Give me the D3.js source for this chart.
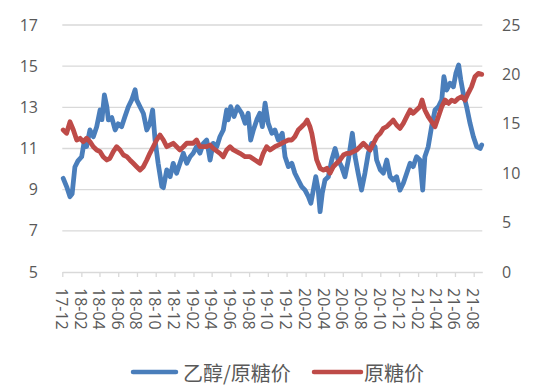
<!DOCTYPE html>
<html><head><meta charset="utf-8">
<script src="https://cdn.jsdelivr.net/npm/d3@7"></script>
<style>body{margin:0;background:#fff}</style>
</head><body><svg id="c" width="550" height="390"></svg>
<script>
const tickLabels = ["17-12","18-02","18-04","18-06","18-08","18-10","18-12","19-02","19-04","19-06","19-08","19-10","19-12","20-02","20-04","20-06","20-08","20-10","20-12","21-02","21-04","21-06","21-08"];
const leftTicks = [5,7,9,11,13,15,17];
const rightTicks = [0,5,10,15,20,25];
const seriesNames = ["乙醇/原糖价","原糖价"];

const ratioDates = ["2017-12-04","2017-12-15","2017-12-26","2018-01-02","2018-01-11","2018-01-21","2018-02-02","2018-02-10","2018-02-18","2018-03-01","2018-03-12","2018-03-23","2018-04-03","2018-04-09","2018-04-17","2018-04-25","2018-04-30","2018-05-11","2018-05-22","2018-06-01","2018-06-12","2018-06-23","2018-07-04","2018-07-15","2018-07-26","2018-07-31","2018-08-11","2018-08-22","2018-09-02","2018-09-12","2018-09-21","2018-09-29","2018-10-09","2018-10-21","2018-10-26","2018-11-06","2018-11-17","2018-11-27","2018-12-08","2018-12-19","2018-12-30","2019-01-10","2019-01-21","2019-01-31","2019-02-11","2019-02-22","2019-03-05","2019-03-16","2019-03-27","2019-04-06","2019-04-18","2019-04-28","2019-05-09","2019-05-20","2019-05-25","2019-06-02","2019-06-13","2019-06-24","2019-07-08","2019-07-19","2019-07-29","2019-08-06","2019-08-15","2019-08-26","2019-09-05","2019-09-13","2019-09-22","2019-10-02","2019-10-14","2019-10-24","2019-11-04","2019-11-17","2019-11-26","2019-12-07","2019-12-18","2019-12-28","2020-01-08","2020-01-19","2020-01-30","2020-02-10","2020-02-18","2020-02-26","2020-03-05","2020-03-13","2020-03-19","2020-03-26","2020-04-04","2020-04-15","2020-04-26","2020-05-07","2020-05-17","2020-05-28","2020-06-08","2020-06-19","2020-07-02","2020-07-11","2020-07-21","2020-08-01","2020-08-12","2020-08-23","2020-09-03","2020-09-14","2020-09-19","2020-10-01","2020-10-11","2020-10-22","2020-11-02","2020-11-12","2020-11-23","2020-12-04","2020-12-15","2020-12-26","2021-01-06","2021-01-16","2021-01-27","2021-02-07","2021-02-16","2021-02-23","2021-03-06","2021-03-17","2021-03-28","2021-04-08","2021-04-19","2021-04-26","2021-05-05","2021-05-16","2021-05-27","2021-06-04","2021-06-13","2021-06-20","2021-06-28","2021-07-09","2021-07-20","2021-07-31","2021-08-11","2021-08-22","2021-08-27"];
const ratioValues = [9.55,9.15,8.66,8.8,10.1,10.4,10.6,11.3,11.1,11.9,11.57,12.06,12.87,12.4,13.6,13.03,12.39,12.5,11.9,12.2,12.06,12.55,13.03,13.36,13.85,13.36,13.03,12.7,11.9,12.2,12.87,11.4,10.28,9.15,9.1,9.96,9.63,10.28,9.8,10.28,10.77,10.28,10.6,10.77,11.09,10.77,11.25,11.41,10.44,11.25,11.09,11.57,11.9,12.87,12.39,13.03,12.55,13.03,12.71,12.23,12.71,11.41,11.9,12.39,12.71,12.06,13.2,12.23,11.74,11.9,11.41,11.74,10.6,10.12,10.28,9.8,9.47,9.15,8.98,8.66,8.34,8.98,9.63,8.98,7.93,8.82,9.47,9.63,10.44,11.0,10.44,10.12,9.63,10.44,11.74,10.6,9.8,8.98,9.8,10.77,11.25,11.09,10.44,9.96,9.8,10.44,9.63,9.47,9.63,8.98,9.31,9.8,10.28,10.12,10.6,10.44,8.98,10.6,11.09,12.06,12.87,13.03,13.36,14.49,13.84,14.17,14.0,14.65,15.06,14.33,13.68,13.03,12.23,11.57,11.09,11.0,11.17];

const sugarDates = ["2017-12-04","2017-12-15","2017-12-26","2018-01-06","2018-01-17","2018-01-28","2018-02-07","2018-02-18","2018-03-01","2018-03-12","2018-03-23","2018-04-03","2018-04-13","2018-04-25","2018-05-05","2018-05-16","2018-05-27","2018-06-07","2018-06-18","2018-06-29","2018-07-09","2018-07-20","2018-07-31","2018-08-11","2018-08-22","2018-09-02","2018-09-12","2018-09-23","2018-10-04","2018-10-15","2018-10-26","2018-11-06","2018-11-27","2018-12-19","2018-12-30","2019-01-10","2019-01-31","2019-02-11","2019-02-22","2019-03-16","2019-03-27","2019-04-06","2019-04-28","2019-05-09","2019-05-20","2019-05-31","2019-06-11","2019-07-02","2019-07-19","2019-08-04","2019-08-20","2019-09-05","2019-09-16","2019-09-27","2019-10-08","2019-10-24","2019-11-04","2019-11-15","2019-11-26","2019-12-07","2019-12-18","2019-12-28","2020-01-08","2020-01-19","2020-01-30","2020-02-06","2020-02-15","2020-02-21","2020-02-29","2020-03-08","2020-03-19","2020-03-30","2020-04-10","2020-04-20","2020-05-01","2020-05-12","2020-05-23","2020-06-03","2020-06-14","2020-06-24","2020-07-05","2020-07-16","2020-07-27","2020-08-07","2020-08-18","2020-08-29","2020-09-09","2020-09-20","2020-10-01","2020-10-11","2020-10-22","2020-11-02","2020-11-12","2020-11-23","2020-12-04","2020-12-15","2020-12-26","2021-01-06","2021-01-16","2021-01-27","2021-02-07","2021-02-14","2021-02-23","2021-03-06","2021-03-17","2021-03-28","2021-04-08","2021-04-19","2021-04-30","2021-05-11","2021-05-21","2021-06-01","2021-06-12","2021-06-23","2021-07-04","2021-07-14","2021-07-25","2021-08-05","2021-08-16","2021-08-27"];
const sugarValues = [14.37,14.04,15.2,14.37,13.36,13.53,13.19,13.53,13.19,12.68,12.35,12.18,11.67,11.34,11.51,12.18,12.68,12.35,11.84,11.67,11.34,11.0,10.66,10.32,10.66,11.34,12.01,12.68,13.36,13.87,13.36,12.68,13.03,12.35,12.68,13.03,13.03,13.36,12.68,12.68,12.85,12.52,12.01,11.67,12.35,12.68,12.35,12.01,11.67,11.67,11.34,11.0,12.01,12.68,12.35,12.68,12.85,13.03,13.19,13.36,13.36,13.7,14.37,14.7,15.05,15.38,14.7,14.04,12.68,11.34,10.5,10.32,10.5,9.99,10.66,11.0,11.34,11.84,12.01,12.01,12.18,12.35,12.68,13.03,12.68,12.35,13.03,13.7,14.04,14.54,14.71,15.05,15.38,14.88,14.54,15.05,15.72,16.4,16.06,16.4,16.73,17.4,16.4,15.72,15.21,14.71,15.72,16.73,17.4,17.07,17.4,17.24,17.58,17.74,17.4,18.08,18.75,19.76,20.11,20.0];

const svg = d3.select("#c");
const parse = d3.timeParse("%Y-%m-%d");
const tickDates = tickLabels.map(s => new Date(2000 + +s.slice(0,2), +s.slice(3) - 1, 1));

const x = d3.scaleTime().domain([new Date(2017,11,1), new Date(2021,7,29)]).range([62.3, 482.3]);
const yL = d3.scaleLinear().domain([5,17]).range([272,25]);
const yR = d3.scaleLinear().domain([0,25]).range([272,25]);

const numFont = "'Open Sans', 'Liberation Sans', sans-serif";
const txtColor = "#595959";

// gridlines
svg.append("g").selectAll("line").data(leftTicks.slice(1)).join("line")
  .attr("x1", 62.3).attr("x2", 482.3)
  .attr("y1", d => yL(d)).attr("y2", d => yL(d))
  .attr("stroke", "#d9d9d9").attr("stroke-width", 1.3);

// left axis labels
const gl = svg.append("g").attr("transform", "translate(38,0)")
  .call(d3.axisLeft(yL).tickValues(leftTicks).tickSize(0).tickPadding(0));
gl.select(".domain").remove();
gl.selectAll("text").attr("font-family", numFont).attr("font-size", 16).attr("fill", txtColor);

// right axis labels
const gr = svg.append("g").attr("transform", "translate(502,0)")
  .call(d3.axisRight(yR).tickValues(rightTicks).tickSize(0).tickPadding(0));
gr.select(".domain").remove();
gr.selectAll("text").attr("font-family", numFont).attr("font-size", 16).attr("fill", txtColor);

// bottom axis
const gb = svg.append("g").attr("transform", "translate(0,272)")
  .call(d3.axisBottom(x).tickValues(tickDates).tickFormat((d,i) => tickLabels[i]).tickSize(5).tickSizeOuter(0));
gb.select(".domain").attr("stroke", "#d9d9d9").attr("stroke-width", 1.3);
gb.selectAll(".tick line").attr("stroke", "#d9d9d9").attr("stroke-width", 1.3);
gb.selectAll("text")
  .attr("font-family", numFont).attr("font-size", 16).attr("fill", txtColor)
  .attr("text-anchor", "start").attr("dy", null)
  .attr("dominant-baseline", "central")
  .attr("transform", "translate(-1,16) rotate(90)")
  .attr("y", 0).attr("x", 0);

// lines
const ratio = ratioDates.map((d,i) => ({d: parse(d), v: ratioValues[i]}));
const sugar = sugarDates.map((d,i) => ({d: parse(d), v: sugarValues[i]}));
const lineL = d3.line().x(p => x(p.d)).y(p => yL(p.v));
const lineR = d3.line().x(p => x(p.d)).y(p => yR(p.v));
const colors = ["#4a7ebb", "#be4b48"];
svg.append("path").datum(ratio).attr("d", lineL).attr("fill","none")
  .attr("stroke", colors[0]).attr("stroke-width", 4.8).attr("stroke-linejoin","round").attr("stroke-linecap","round");
svg.append("path").datum(sugar).attr("d", lineR).attr("fill","none")
  .attr("stroke", colors[1]).attr("stroke-width", 4.8).attr("stroke-linejoin","round").attr("stroke-linecap","round");

// legend
const legend = [{x1:133, x2:176, tx:183}, {x1:314, x2:361, tx:364}];
legend.forEach((l,i) => {
  svg.append("line").attr("x1", l.x1).attr("x2", l.x2).attr("y1", 372).attr("y2", 372)
    .attr("stroke", colors[i]).attr("stroke-width", 4.5).attr("stroke-linecap","round");
  svg.append("text").attr("x", l.tx).attr("y", 372).attr("dominant-baseline","central")
    .attr("font-family", "'Noto Sans CJK SC', sans-serif").attr("font-size", 20)
    .attr("fill", txtColor).text(seriesNames[i]);
});
</script>
</body></html>
